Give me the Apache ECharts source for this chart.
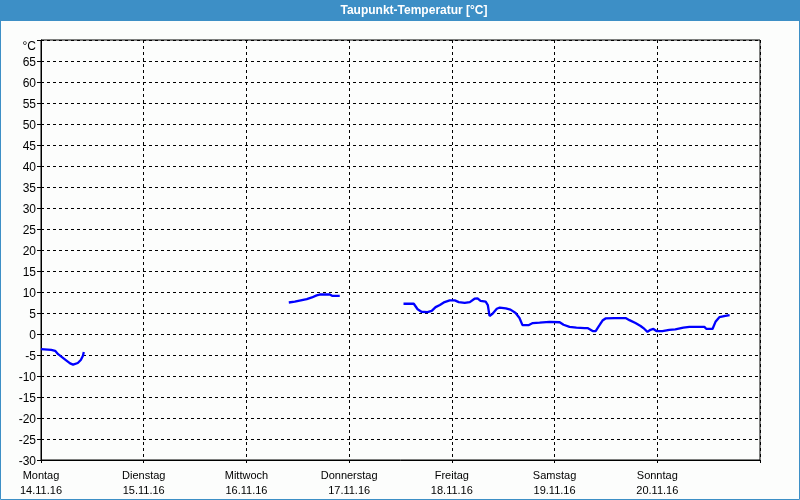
<!DOCTYPE html>
<html>
<head>
<meta charset="utf-8">
<script src="https://cdn.jsdelivr.net/npm/echarts@6/dist/echarts.min.js"></script>
<style>html,body{margin:0;padding:0;background:#fff}#c{width:800px;height:500px}</style>
</head>
<body>
<div id="c"></div>
<script>
// Hours since Monday 14.11.16 00:00
var dayNames = ['Montag','Dienstag','Mittwoch','Donnerstag','Freitag','Samstag','Sonntag'];
var dayDates = ['14.11.16','15.11.16','16.11.16','17.11.16','18.11.16','19.11.16','20.11.16'];
var yTicks = [-30,-25,-20,-15,-10,-5,0,5,10,15,20,25,30,35,40,45,50,55,60,65];
var titleText = 'Taupunkt-Temperatur [°C]';
var unitText = '°C';

var hours1 = [0, 2.4, 3.3, 4.0, 4.9, 5.8, 6.8, 7.5, 7.9, 8.6, 9.3, 9.8, 10.0];
var temps1 = [-3.6, -3.8, -4.0, -4.8, -5.5, -6.2, -7.0, -7.3, -7.3, -6.9, -6.2, -5.2, -4.3];

var hours2 = [57.9, 59.3, 60.7, 62.1, 63.3, 64.4, 65.1, 67.5, 68.0, 69.8];
var temps2 = [7.5, 7.7, 8.0, 8.3, 8.7, 9.2, 9.4, 9.4, 9.1, 9.1];

var hours3 = [84.7, 87.1, 88.0, 88.9, 90.3, 91.3, 92.2, 93.2, 94.3, 95.5, 96.7, 97.6, 99.0, 100.2, 100.6, 101.3, 102.0, 102.7, 103.9, 104.4, 104.8, 105.5, 106.5, 107.2, 108.6, 109.7, 110.9, 111.8, 112.5, 113.9, 114.9, 116.5, 118.8, 121.2, 122.1, 123.5, 125.1, 127.0, 127.7, 128.9, 129.6, 130.5, 131.2, 131.9, 134.0, 136.6, 137.5, 138.9, 140.1, 141.0, 141.7, 142.4, 143.1, 143.8, 145.2, 146.8, 148.2, 150.1, 151.5, 153.9, 155.0, 155.5, 156.9, 157.6, 158.5, 159.9, 160.9];
var temps3 = [7.2, 7.2, 5.9, 5.3, 5.2, 5.5, 6.4, 6.9, 7.6, 8.0, 8.0, 7.6, 7.4, 7.6, 7.4, 8.4, 8.5, 7.9, 7.7, 6.9, 4.3, 4.8, 6.0, 6.3, 6.1, 5.8, 5.0, 3.8, 2.1, 2.1, 2.6, 2.7, 2.9, 2.8, 2.2, 1.7, 1.5, 1.4, 1.4, 0.7, 0.7, 2.1, 3.2, 3.7, 3.8, 3.8, 3.3, 2.6, 1.9, 1.2, 0.5, 1.0, 1.2, 0.7, 0.7, 1.0, 1.1, 1.5, 1.7, 1.7, 1.7, 1.2, 1.2, 2.9, 4.0, 4.3, 4.5];

function pairs(h, v) { return h.map(function (x, i) { return [x, v[i]]; }); }

var FONT = 'Liberation Sans';
var chart = echarts.init(document.getElementById('c'), null, {renderer: 'canvas'});
var lineSeries = [[hours1, temps1], [hours2, temps2], [hours3, temps3]].map(function (s) {
  return {
    type: 'line', data: pairs(s[0], s[1]), showSymbol: false, symbol: 'none',
    lineStyle: {color: '#0000ff', width: 2.3}, animation: false, z: 5
  };
});

chart.setOption({
  backgroundColor: '#fcfdfc',
  animation: false,
  grid: {left: 41, top: 40, right: 40, bottom: 40, show: true, borderColor: '#000', borderWidth: 1, backgroundColor: 'transparent'},
  xAxis: {
    type: 'value', min: 0, max: 168, interval: 24,
    axisLine: {show: true, onZero: false, lineStyle: {color: '#000', width: 1}},
    axisTick: {show: true, length: 3, lineStyle: {color: '#000'}},
    splitLine: {show: true, lineStyle: {color: '#000', type: [3, 3], width: 1}},
    axisLabel: {
      margin: 8, color: '#000', fontFamily: FONT, fontSize: 11, lineHeight: 15,
      formatter: function (v) {
        var i = Math.round(v / 24);
        if (i >= dayNames.length) return '';
        return dayNames[i] + '\n' + dayDates[i];
      }
    }
  },
  yAxis: {
    type: 'value', min: -30, max: 70, interval: 5,
    axisLine: {show: true, lineStyle: {color: '#000', width: 1}},
    axisTick: {show: true, length: 4, lineStyle: {color: '#000'}},
    splitLine: {show: true, lineStyle: {color: '#000', type: [3, 3], width: 1}},
    axisLabel: {
      margin: 5, color: '#000', fontFamily: FONT, fontSize: 12,
      formatter: function (v) { return yTicks.indexOf(v) >= 0 ? '{a|' + v + '}' : ''; },
      rich: {a: {fontFamily: FONT, fontSize: 12, color: '#000', padding: [4, 0, 0, 0]}}
    }
  },
  graphic: [
    {type: 'rect', shape: {x: 0, y: 0, width: 800, height: 21}, style: {fill: '#3d8fc6'}, z: 10},
    {type: 'text', x: 414, y: 11, style: {text: titleText, fill: '#fff', font: 'bold 12px "' + FONT + '"', textAlign: 'center', textVerticalAlign: 'middle'}, z: 11},
    {type: 'rect', shape: {x: 0.5, y: 0.5, width: 799, height: 499}, style: {fill: 'none', stroke: '#3d8fc6', lineWidth: 1}, z: 9},
    {type: 'text', x: 36, y: 47, style: {text: unitText, fill: '#000', font: '12px "' + FONT + '"', textAlign: 'right', textVerticalAlign: 'middle'}, z: 11}
  ],
  series: lineSeries
});
</script>
</body>
</html>
